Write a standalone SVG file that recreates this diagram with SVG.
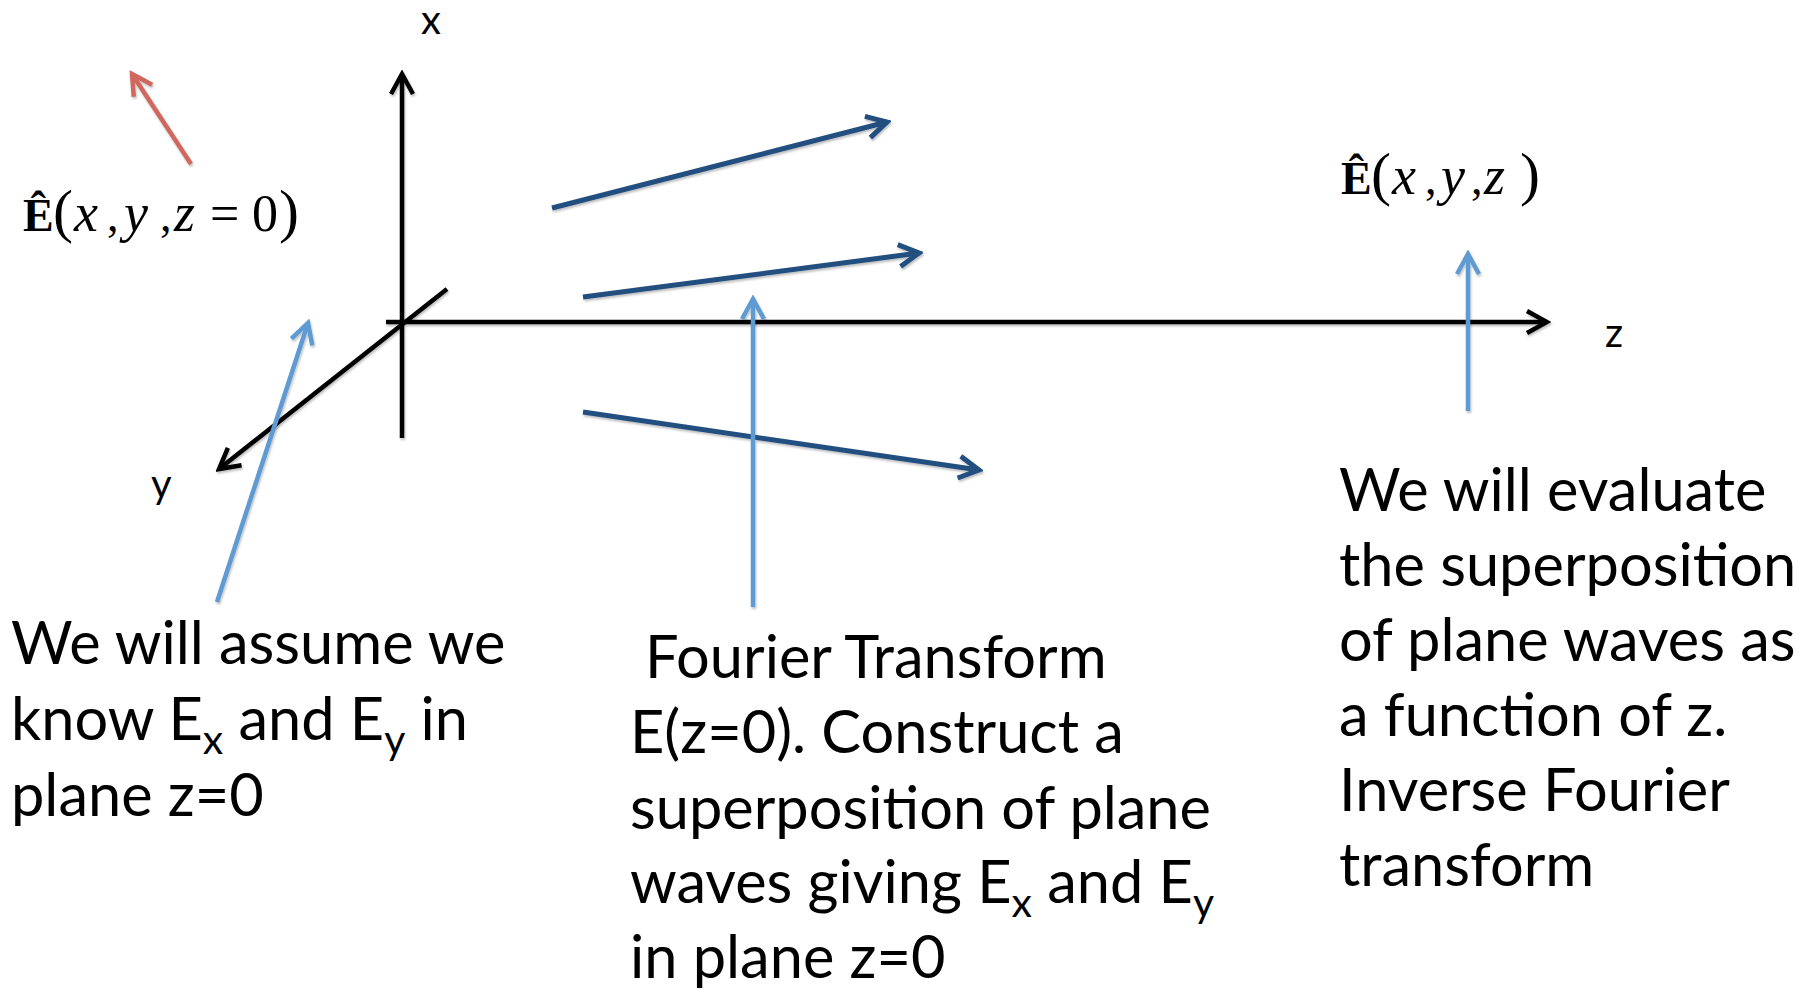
<svg xmlns="http://www.w3.org/2000/svg" width="1816" height="993" viewBox="0 0 1816 993">
<style>
  .ax { stroke:#000; stroke-width:4.5; fill:none; }
  .dk { stroke:#24507f; stroke-width:5; fill:none; }
  .lb { stroke:#5f9bd3; stroke-width:4.5; fill:none; }
  .rd { stroke:#d0675f; stroke-width:4.5; fill:none; }
  .t { font-family:Lato, "Liberation Sans", sans-serif; font-size:59.5px; fill:#000; }
  .sub { font-size:41px; }
  .axl { font-family:Lato, "Liberation Sans", sans-serif; font-size:40px; fill:#000; }
  .m { font-family:"Liberation Serif", "DejaVu Serif", serif; font-size:46px; fill:#000; }
  .mi { font-style:italic; font-size:54px; }
  .mb { font-weight:bold; }
  .md { font-size:52px; }
  .mp { font-size:60px; }
</style>
<defs>
  <filter id="sh" x="-10%" y="-10%" width="120%" height="120%">
    <feDropShadow dx="1" dy="2" stdDeviation="1" flood-color="#000" flood-opacity="0.25"/>
  </filter>
  <marker id="mk" markerUnits="userSpaceOnUse" viewBox="-24 -14 28 28" markerWidth="28" markerHeight="28" refX="0" refY="0" orient="auto">
    <path d="M-20,-11 L0,0 L-20,11" fill="none" stroke="#000" stroke-width="4.5"/>
  </marker>
  <marker id="md" markerUnits="userSpaceOnUse" viewBox="-24 -14 28 28" markerWidth="28" markerHeight="28" refX="0" refY="0" orient="auto">
    <path d="M-20,-11 L0,0 L-20,11" fill="none" stroke="#24507f" stroke-width="5"/>
  </marker>
  <marker id="ml" markerUnits="userSpaceOnUse" viewBox="-24 -14 28 28" markerWidth="28" markerHeight="28" refX="0" refY="0" orient="auto">
    <path d="M-20,-11 L0,0 L-20,11" fill="none" stroke="#5f9bd3" stroke-width="4.5"/>
  </marker>
  <marker id="mr" markerUnits="userSpaceOnUse" viewBox="-24 -14 28 28" markerWidth="28" markerHeight="28" refX="0" refY="0" orient="auto">
    <path d="M-20,-11 L0,0 L-20,11" fill="none" stroke="#d0675f" stroke-width="4.5"/>
  </marker>
</defs>
<rect width="1816" height="993" fill="#fff"/>

<g id="axes" filter="url(#sh)">
  <line class="ax" x1="402" y1="438" x2="402" y2="74" marker-end="url(#mk)"/>
  <line class="ax" x1="386" y1="322" x2="1547" y2="322" marker-end="url(#mk)"/>
  <line class="ax" x1="447" y1="289" x2="219" y2="469" marker-end="url(#mk)"/>
</g>
<g id="axis-labels">
  <text class="axl" x="421" y="34">x</text>
  <text class="axl" x="151" y="498">y</text>
  <text class="axl" x="1605" y="347">z</text>
</g>

<g id="connectors" filter="url(#sh)">
  <line class="rd" x1="191" y1="164" x2="132" y2="74" marker-end="url(#mr)"/>
  <line class="dk" x1="552" y1="208" x2="887" y2="122" marker-end="url(#md)"/>
  <line class="dk" x1="583" y1="297" x2="919" y2="253" marker-end="url(#md)"/>
  <line class="dk" x1="583" y1="412" x2="979" y2="470" marker-end="url(#md)"/>
  <line class="lb" x1="217" y1="602" x2="308" y2="323" marker-end="url(#ml)"/>
  <line class="lb" x1="753" y1="607" x2="753" y2="299" marker-end="url(#ml)"/>
  <line class="lb" x1="1468" y1="411" x2="1468" y2="254" marker-end="url(#ml)"/>
</g>

<g id="label-E0">
  <text class="m mb" x="23" y="231">Ê</text>
  <text class="m mp" x="53" y="231">(</text>
  <text class="m mi" x="74" y="231">x</text>
  <text class="m" x="107" y="231">,</text>
  <text class="m mi" x="124" y="231">y</text>
  <text class="m" x="160" y="231">,</text>
  <text class="m mi" x="174" y="231">z</text>
  <text class="m md" x="210" y="231">=</text>
  <text class="m md" x="252" y="231">0</text>
  <text class="m mp" x="279" y="231">)</text>
</g>

<g id="label-Ez">
  <text class="m mb" x="1341" y="194">Ê</text>
  <text class="m mp" x="1371" y="194">(</text>
  <text class="m mi" x="1392" y="194">x</text>
  <text class="m" x="1425" y="194">,</text>
  <text class="m mi" x="1441" y="194">y</text>
  <text class="m" x="1471" y="194">,</text>
  <text class="m mi" x="1484" y="194">z</text>
  <text class="m mp" x="1520" y="194">)</text>
</g>

<g id="text-left">
  <text class="t" x="11" y="664">We will assume we</text>
  <text class="t" x="11" y="740">know E<tspan class="sub" dy="14">x</tspan><tspan dy="-14"> and E</tspan><tspan class="sub" dy="14">y</tspan><tspan dy="-14"> in</tspan></text>
  <text class="t" x="11" y="816">plane z=0</text>
</g>

<g id="text-middle">
  <text class="t" x="645" y="678">Fourier Transform</text>
  <text class="t" x="630" y="753">E(z=0). Construct a</text>
  <text class="t" x="630" y="829">superposition of plane</text>
  <text class="t" x="630" y="903">waves giving E<tspan class="sub" dy="14">x</tspan><tspan dy="-14"> and E</tspan><tspan class="sub" dy="14">y</tspan></text>
  <text class="t" x="630" y="978">in plane z=0</text>
</g>

<g id="text-right">
  <text class="t" x="1339" y="511">We will evaluate</text>
  <text class="t" x="1339" y="586">the superposition</text>
  <text class="t" x="1339" y="661">of plane waves as</text>
  <text class="t" x="1339" y="736">a function of z.</text>
  <text class="t" x="1339" y="811">Inverse Fourier</text>
  <text class="t" x="1339" y="886">transform</text>
</g>
</svg>
